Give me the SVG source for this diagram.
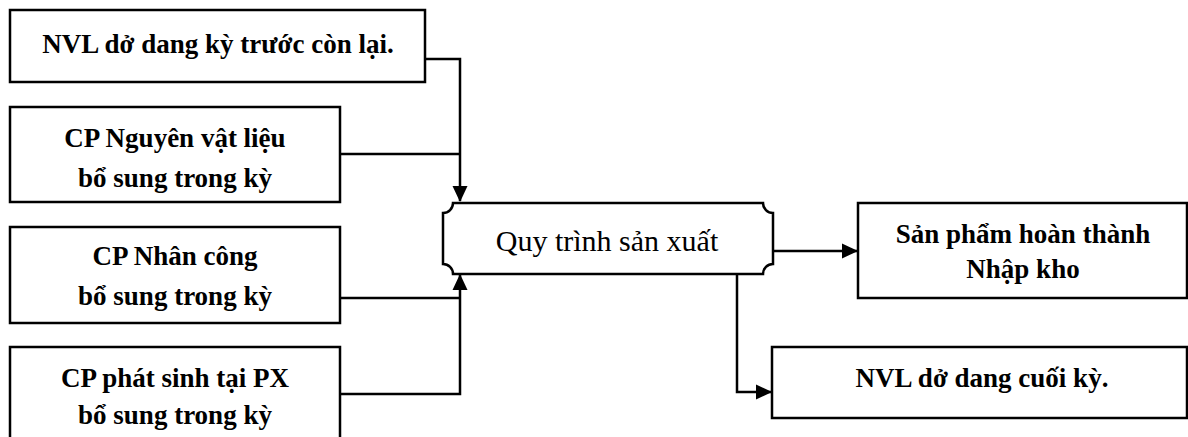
<svg xmlns="http://www.w3.org/2000/svg" width="1188" height="437" viewBox="0 0 1188 437">
  <style>
    .box { fill: #fff; stroke: #000; stroke-width: 2.5; }
    .lbl { font-family: "Liberation Serif", "Times New Roman", serif; font-size: 27px; font-weight: bold; text-anchor: middle; fill: #000; }
    .main { font-family: "Liberation Serif", "Times New Roman", serif; font-size: 30px; text-anchor: middle; fill: #000; }
    .wire { fill: none; stroke: #000; stroke-width: 2.5; }
  </style>
  <defs>
    <marker id="arrow" markerWidth="16" markerHeight="16" refX="15" refY="8" orient="auto" markerUnits="userSpaceOnUse">
      <path d="M0,0.5 L16,8 L0,15.5 Z" fill="#000"/>
    </marker>
  </defs>
  <rect width="1188" height="437" fill="#fff"/>

  <g id="connectors">
    <polyline class="wire" points="425,59 460,59 460,201" marker-end="url(#arrow)"/>
    <polyline class="wire" points="340,154 460,154"/>
    <polyline class="wire" points="340,298 460,298"/>
    <polyline class="wire" points="340,394 460,394 460,275" marker-end="url(#arrow)"/>
    <polyline class="wire" points="773,251 857,251" marker-end="url(#arrow)"/>
    <polyline class="wire" points="737,274 737,392 771,392" marker-end="url(#arrow)"/>
  </g>

  <g id="n-nvl-truoc">
    <rect class="box" x="10" y="10" width="415" height="72"/>
    <text class="lbl" x="218" y="53">NVL dở dang kỳ trước còn lại.</text>
  </g>
  <g id="n-cp-nvl">
    <rect class="box" x="10" y="107" width="330" height="95"/>
    <text class="lbl" x="175" y="147">CP Nguyên vật liệu</text>
    <text class="lbl" x="175" y="187">bổ sung trong kỳ</text>
  </g>
  <g id="n-cp-nc">
    <rect class="box" x="10" y="227" width="330" height="96"/>
    <text class="lbl" x="175" y="265">CP Nhân công</text>
    <text class="lbl" x="175" y="305">bổ sung trong kỳ</text>
  </g>
  <g id="n-cp-px">
    <rect class="box" x="10" y="347" width="330" height="100"/>
    <text class="lbl" x="175" y="387">CP phát sinh tại PX</text>
    <text class="lbl" x="175" y="424">bổ sung trong kỳ</text>
  </g>
  <g id="n-quy-trinh">
    <path class="box" d="M453,203 L763,203 A10,10 0 0 0 773,213 L773,264 A10,10 0 0 0 763,274 L453,274 A10,10 0 0 0 443,264 L443,213 A10,10 0 0 0 453,203 Z"/>
    <text class="main" x="607" y="251">Quy trình sản xuất</text>
  </g>
  <g id="n-san-pham">
    <rect class="box" x="858" y="203" width="329" height="95"/>
    <text class="lbl" x="1023" y="243">Sản phẩm hoàn thành</text>
    <text class="lbl" x="1023" y="278">Nhập kho</text>
  </g>
  <g id="n-nvl-cuoi">
    <rect class="box" x="772" y="347" width="415" height="71"/>
    <text class="lbl" x="982" y="387">NVL dở dang cuối kỳ.</text>
  </g>
</svg>
